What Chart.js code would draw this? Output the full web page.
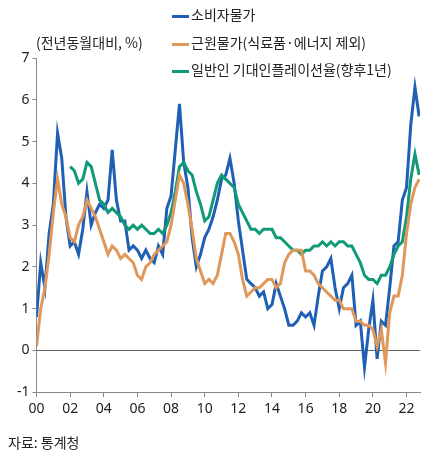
<!DOCTYPE html>
<html><head><meta charset="utf-8">
<script src="https://cdn.jsdelivr.net/npm/chart.js@4/dist/chart.umd.min.js"></script>
<style>
body{margin:0;background:#fff;font-family:"Noto Sans CJK KR","Noto Sans",sans-serif;}
#wrap{position:relative;width:442px;height:470px;}
#c{position:absolute;left:0;top:0;}
.t{position:absolute;font-size:14px;color:#222;white-space:nowrap;}
.sw{display:inline-block;width:17px;height:3px;vertical-align:middle;margin-right:2px;}
</style></head><body>
<div id="wrap">
<canvas id="c" width="442" height="470"></canvas>
<div class="t" style="left:36px;top:32px">(전년동월대비, %)</div>
<div class="t" style="left:172px;top:4px"><span class="sw" style="background:#1f5fb4"></span>소비자물가</div>
<div class="t" style="left:172px;top:32px"><span class="sw" style="background:#e0975a"></span>근원물가(식료품·에너지 제외)</div>
<div class="t" style="left:172px;top:59px"><span class="sw" style="background:#109a78"></span>일반인 기대인플레이션율(향후1년)</div>
<div class="t" style="left:8px;top:432px">자료: 통계청</div>
</div>
<script>
// 분기별 시점 (2000.0 ~ 2022.75)
const periods = [];
for (let y = 2000; y <= 2022; y++) for (let q = 0; q < 4; q++) periods.push(y + q * 0.25);

const yearTicks = [2000, 2002, 2004, 2006, 2008, 2010, 2012, 2014, 2016, 2018, 2020, 2022];

const cpi = [
  0.8, 2.1, 1.5, 2.8,  3.5, 5.2, 4.6, 3.2,  2.5, 2.6, 2.3, 2.9,  3.8, 3.0, 3.3, 3.5,
  3.4, 3.6, 4.8, 3.6,  3.1, 3.1, 2.4, 2.5,  2.4, 2.2, 2.4, 2.2,  2.1, 2.5, 2.3, 3.4,
  3.7, 4.8, 5.9, 4.5,  3.9, 2.7, 2.0, 2.3,  2.7, 2.9, 3.2, 3.6,  4.1, 4.2, 4.6, 4.0,
  3.1, 2.4, 1.7, 1.6,  1.5, 1.3, 1.4, 1.0,  1.1, 1.6, 1.3, 1.0,  0.6, 0.6, 0.7, 0.9,
  0.8, 0.9, 0.6, 1.3,  1.9, 2.0, 2.2, 1.5,  1.0, 1.5, 1.6, 1.8,  0.6, 0.7, -0.4, 0.5,
  1.2, -0.2, 0.7, 0.6, 1.5, 2.5, 2.6, 3.6,  3.9, 5.4, 6.3, 5.6
];
const core = [
  0.1, 1.0, 1.5, 2.3,  3.3, 4.1, 3.5, 3.2,  2.7, 2.6, 3.0, 3.2,  3.6, 3.4, 3.2, 2.9,
  2.6, 2.3, 2.5, 2.4,  2.2, 2.3, 2.2, 2.1,  1.8, 1.7, 2.0, 2.1,  2.3, 2.4, 2.5, 2.6,
  3.0, 3.6, 4.2, 4.0,  3.5, 2.9, 2.2, 1.9,  1.6, 1.7, 1.6, 1.8,  2.3, 2.8, 2.8, 2.6,
  2.3, 1.7, 1.3, 1.4,  1.5, 1.5, 1.6, 1.7,  1.7, 1.5, 1.6, 2.1,  2.3, 2.4, 2.4, 2.4,
  1.9, 1.9, 1.8, 1.6,  1.5, 1.4, 1.3, 1.2,  1.2, 1.0, 1.0, 1.0,  0.7, 0.7, 0.6, 0.6,
  0.5, 0.1, 0.5, -0.3, 0.9, 1.3, 1.3, 1.8,  2.8, 3.5, 3.9, 4.1
];
const expect = [
  null, null, null, null, null, null, null, null,
  4.4, 4.3, 4.0, 4.1,  4.5, 4.4, 4.0, 3.6,
  3.5, 3.3, 3.4, 3.3,  3.2, 3.0, 2.9, 3.0,  2.9, 3.0, 2.9, 2.8,  2.8, 2.9, 2.8, 3.0,
  3.3, 3.8, 4.4, 4.5,  4.3, 4.2, 3.8, 3.5,  3.1, 3.2, 3.6, 4.0,  4.2, 4.1, 4.0, 3.9,
  3.5, 3.3, 3.1, 2.9,  2.9, 2.8, 2.9, 2.9,  2.9, 2.7, 2.7, 2.6,  2.5, 2.4, 2.4, 2.3,
  2.4, 2.4, 2.5, 2.5,  2.6, 2.5, 2.6, 2.5,  2.6, 2.6, 2.5, 2.5,  2.3, 2.1, 1.8, 1.7,
  1.7, 1.6, 1.8, 1.8,  2.0, 2.3, 2.5, 2.6,  3.2, 4.1, 4.7, 4.2
];

const toPts = arr => periods.map((x, i) => ({ x, y: arr[i] }));
const line = (data, color) => ({
  data: toPts(data), borderColor: color, borderWidth: 3, pointRadius: 0,
  tension: 0, spanGaps: false
});

new Chart(document.getElementById('c'), {
  type: 'line',
  data: { datasets: [
    line(core, '#e0975a'),
    line(expect, '#109a78'),
    line(cpi, '#1f5fb4')
  ] },
  options: {
    responsive: false, animation: false,
    layout: { padding: { left: 14, right: 22, top: 58, bottom: 50 } },
    plugins: { legend: { display: false }, tooltip: { enabled: false } },
    scales: {
      x: {
        type: 'linear', min: 2000, max: 2022.8,
        afterBuildTicks: s => { s.ticks = yearTicks.map(v => ({ value: v })); },
        border: { color: '#888', width: 1 },
        grid: { display: true, drawOnChartArea: false, tickLength: 5, color: '#888' },
        ticks: { maxRotation: 0, color: '#222', font: { size: 14, family: 'Noto Sans' },
          callback: v => String(v % 100).padStart(2, '0') }
      },
      y: {
        min: -1, max: 7,
        border: { color: '#888', width: 1 },
        grid: { color: c => c.tick.value === 0 ? '#666' : 'transparent', tickLength: 4, tickColor: '#888' },
        ticks: { stepSize: 1, color: '#222', font: { size: 14, family: 'Noto Sans' } }
      }
    }
  }
});
</script>
</body></html>
